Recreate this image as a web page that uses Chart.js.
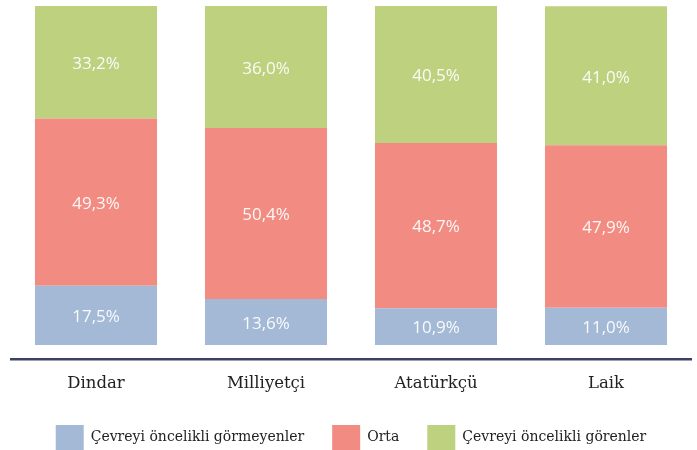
<!DOCTYPE html>
<html>
<head>
<meta charset="utf-8">
<script src="https://cdn.jsdelivr.net/npm/chart.js@4.4.1/dist/chart.umd.min.js"></script>
<style>
  html, body { margin: 0; padding: 0; background: #fff; }
  #wrap { width: 697px; height: 450px; }
</style>
</head>
<body>
<div id="wrap"><canvas id="grafik"></canvas></div>
<script>
const kategoriler = ['Dindar', 'Milliyetçi', 'Atatürkçü', 'Laik'];
const gormeyenler = [17.5, 13.6, 10.9, 11.0];
const orta = [49.3, 50.4, 48.7, 47.9];
const gorenler = [33.2, 36.0, 40.5, 41.0];

// bar icine yuzde yazan kucuk plugin
const yuzdeEtiket = {
    id: 'yuzdeEtiket',
    afterDatasetsDraw(chart) {
        const ctx = chart.ctx;
        ctx.save();
        ctx.font = '17px "Open Sans"';
        ctx.fillStyle = 'rgba(255,255,255,0.93)';
        ctx.textAlign = 'center';
        ctx.textBaseline = 'middle';
        chart.data.datasets.forEach((ds, i) => {
            chart.getDatasetMeta(i).data.forEach((bar, j) => {
                const p = bar.getProps(['x', 'y', 'base'], true);
                const txt = ds.data[j].toFixed(1).replace('.', ',') + '%';
                ctx.fillText(txt, p.x, (p.y + p.base) / 2 + 2);
            });
        });
        ctx.restore();
    }
};

new Chart(document.getElementById('grafik'), {
    type: 'bar',
    data: {
        labels: kategoriler,
        datasets: [
            { label: 'Çevreyi öncelikli görmeyenler', data: gormeyenler, backgroundColor: '#a3b9d5' },
            { label: 'Orta', data: orta, backgroundColor: '#f28b81' },
            { label: 'Çevreyi öncelikli görenler', data: gorenler, backgroundColor: '#bdd17f' }
        ]
    },
    options: {
        responsive: true,
        maintainAspectRatio: false,
        animation: false,
        layout: { padding: { top: 6, left: 11, right: 6, bottom: -10 } },
        datasets: { bar: { categoryPercentage: 1, barPercentage: 0.718 } },
        scales: {
            x: {
                stacked: true,
                grid: { display: false },
                border: { display: true, color: '#3a4361', width: 2.5 },
                ticks: { color: '#222', font: { family: '"DejaVu Serif"', size: 16.5 }, padding: 7 },
                afterFit: function (scale) { scale.height = 38; }
            },
            y: {
                stacked: true,
                display: false,
                min: -4.1,
                max: 100
            }
        },
        plugins: {
            legend: {
                position: 'bottom',
                labels: {
                    boxWidth: 28,
                    boxHeight: 25,
                    padding: 28,
                    color: '#222',
                    font: { family: '"DejaVu Serif"', size: 14 }
                }
            },
            tooltip: { enabled: false }
        }
    },
    plugins: [yuzdeEtiket]
});
</script>
</body>
</html>
